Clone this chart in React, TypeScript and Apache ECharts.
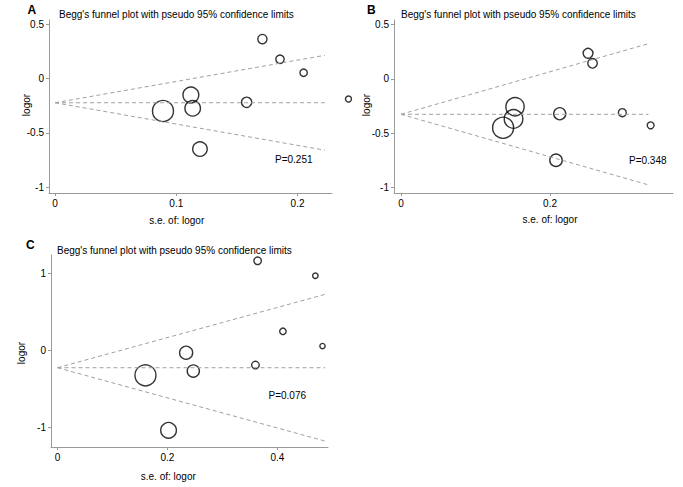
import React, { useEffect, useRef } from "react";
import * as echarts from "echarts";

// Panel A
const seA = [0.171, 0.1855, 0.205, 0.158, 0.112, 0.1135, 0.089, 0.1195, 0.242];
const logorA = [0.364, 0.178, 0.054, -0.218, -0.151, -0.273, -0.298, -0.648, -0.188];
const pooledA = -0.222;
const seMaxA = 0.2225;
const pA = "P=0.251";

// Panel B
const seB = [0.251, 0.257, 0.153, 0.151, 0.137, 0.213, 0.297, 0.335, 0.208];
const logorB = [0.235, 0.143, -0.257, -0.37, -0.451, -0.322, -0.312, -0.429, -0.751];
const pooledB = -0.327;
const seMaxB = 0.332;
const pB = "P=0.348";

// Panel C
const seC = [0.364, 0.469, 0.41, 0.482, 0.234, 0.247, 0.36, 0.16, 0.202];
const logorC = [1.166, 0.971, 0.248, 0.057, -0.03, -0.268, -0.19, -0.324, -1.039];
const pooledC = -0.225;
const seMaxC = 0.487;
const pC = "P=0.076";

const yTicksAB = [-1, -0.5, 0, 0.5];
const xTicksA = [0, 0.1, 0.2];
const xTicksB = [0, 0.2];
const yTicksC = [-1, 0, 1];
const xTicksC = [0, 0.2, 0.4];

const TITLE = "Begg's funnel plot with pseudo 95% confidence limits";
const XNAME = "s.e. of: logor";
const YNAME = "logor";

const FONT = "Arial, 'Liberation Sans', Helvetica, sans-serif";
const AXIS_GRAY = "#9a9a9a";
const DASH_GRAY = "#a0a0a0";

function makeAxis(min: number, max: number, ticks: number[], gridIndex: number, isY: boolean) {
  return {
    type: "value",
    gridIndex,
    min,
    max,
    axisLine: { show: true, onZero: false, lineStyle: { color: AXIS_GRAY, width: 1 } },
    axisTick: { show: true, length: 3, customValues: ticks, lineStyle: { color: AXIS_GRAY } },
    axisLabel: {
      show: true,
      customValues: ticks,
      color: "#000",
      fontSize: 10,
      fontFamily: FONT,
      margin: 5,
      padding: isY ? [5, 0, 0, 0] : 0,
      showMinLabel: true,
      showMaxLabel: true,
      formatter: (v: number) => String(v),
    },
    splitLine: { show: false },
  };
}

function panelSeries(se: number[], lo: number[], pooled: number, seMax: number, idx: number) {
  const minSe = Math.min(...se);
  const pts = se.map((s, i) => [s, lo[i]]);
  const dash = {
    type: "line",
    xAxisIndex: idx,
    yAxisIndex: idx,
    symbol: "none",
    silent: true,
    lineStyle: { color: DASH_GRAY, width: 1, type: [4, 3] },
  };
  return [
    { ...dash, data: [[0, pooled], [seMax, pooled]] },
    { ...dash, data: [[0, pooled], [seMax, pooled + 1.96 * seMax]] },
    { ...dash, data: [[0, pooled], [seMax, pooled - 1.96 * seMax]] },
    {
      type: "scatter",
      xAxisIndex: idx,
      yAxisIndex: idx,
      clip: false,
      data: pts,
      symbol: "circle",
      symbolSize: (d: number[]) => 21 * Math.pow(minSe / d[0], 1.25),
      itemStyle: { color: "rgba(0,0,0,0)", borderColor: "#000", borderWidth: 1.4 },
    },
  ];
}

function txt(x: number, y: number, text: string, extra: any = {}) {
  return {
    type: "text",
    x,
    y,
    silent: true,
    style: {
      text,
      fill: "#000",
      fontSize: 10,
      fontFamily: FONT,
      verticalAlign: "middle",
      align: "left",
      ...(extra.style || {}),
    },
    ...(extra.rotation !== undefined ? { rotation: extra.rotation } : {}),
  };
}

export default function App() {
  const ref = useRef<HTMLDivElement>(null);
  useEffect(() => {
    if (!ref.current) return;
    const chart = echarts.init(ref.current, undefined, { renderer: "svg" });
    const option: any = {
      animation: false,
      backgroundColor: "#fff",
      grid: [
        { left: 49, top: 20, width: 283, height: 173 },
        { left: 394, top: 20, width: 279, height: 173 },
        { left: 51, top: 255, width: 277, height: 192 },
      ],
      xAxis: [
        makeAxis(-0.005, 0.2284, xTicksA, 0, false),
        makeAxis(-0.0094, 0.365, xTicksB, 1, false),
        makeAxis(-0.0118, 0.492, xTicksC, 2, false),
      ],
      yAxis: [
        makeAxis(-1.052, 0.539, yTicksAB, 0, true),
        makeAxis(-1.0525, 0.542, yTicksAB, 1, true),
        makeAxis(-1.256, 1.241, yTicksC, 2, true),
      ],
      series: [
        ...panelSeries(seA, logorA, pooledA, seMaxA, 0),
        ...panelSeries(seB, logorB, pooledB, seMaxB, 1),
        ...panelSeries(seC, logorC, pooledC, seMaxC, 2),
      ],
      graphic: [
        txt(27.5, 9.5, "A", { style: { fontWeight: "bold", fontSize: 12 } }),
        txt(59, 14, TITLE),
        txt(367, 9.5, "B", { style: { fontWeight: "bold", fontSize: 12 } }),
        txt(401, 14, TITLE),
        txt(26, 244.5, "C", { style: { fontWeight: "bold", fontSize: 12 } }),
        txt(57, 250, TITLE),
        txt(275, 159.5, pA),
        txt(629, 160, pB),
        txt(268.5, 395.5, pC),
        txt(176.7, 220, XNAME, { style: { align: "center" } }),
        txt(550, 219, XNAME, { style: { align: "center" } }),
        txt(168.3, 476, XNAME, { style: { align: "center" } }),
        txt(26.7, 105, YNAME, { style: { align: "center" }, rotation: Math.PI / 2 }),
        txt(366.7, 105, YNAME, { style: { align: "center" }, rotation: Math.PI / 2 }),
        txt(21.7, 353, YNAME, { style: { align: "center" }, rotation: Math.PI / 2 }),
      ],
    };
    chart.setOption(option);
    return () => chart.dispose();
  }, []);
  return (
    <div
      ref={ref}
      style={{ position: "fixed", left: 0, top: 0, width: 683, height: 487, background: "#fff" }}
    />
  );
}
